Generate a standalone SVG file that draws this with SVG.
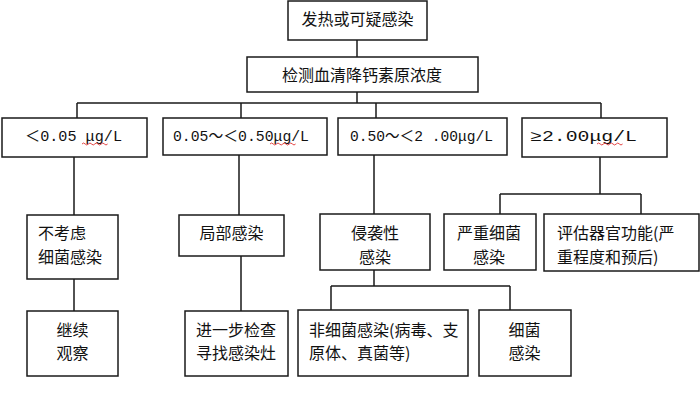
<svg xmlns="http://www.w3.org/2000/svg" width="700" height="412" viewBox="0 0 700 412">
<style>
.box{fill:#fff;stroke:#1a1a1a;stroke-width:1.5}
.ln{fill:none;stroke:#1a1a1a;stroke-width:1.5}
.t{font-family:"Noto Sans CJK SC","Liberation Sans",sans-serif;font-size:16px;fill:#111}
.c{text-anchor:middle}
.m{font-family:"Liberation Mono","Noto Sans CJK SC",monospace;font-size:15px;fill:#111}
.sq{fill:none;stroke:#e03030;stroke-width:0.9}
</style>
<rect width="700" height="412" fill="#fff"/>
<g id="connectors">
<path class="ln" d="M357 40V57"/>
<path class="ln" d="M357 92V103M77 103H601M77 103V118M241 103V118M376 103V118M601 103V118"/>
<path class="ln" d="M74 157V215M74 279V311"/>
<path class="ln" d="M239 155V215M241 256V311"/>
<path class="ln" d="M374 155V214M374 270V286M331 286H510M331 286V310M510 286V310"/>
<path class="ln" d="M600 157V194M500 194H641M500 194V214M641 194V214"/>
</g>
<g id="n1"><rect class="box" x="288" y="1" width="139" height="39"/><text class="t c" x="357.5" y="25">发热或可疑感染</text></g>
<g id="n2"><rect class="box" x="247" y="57" width="231" height="35"/><text class="t c" x="362" y="81">检测血清降钙素原浓度</text></g>
<g id="n3"><rect class="box" x="2" y="118" width="145" height="39"/><text class="m" x="25" y="141" textLength="97" lengthAdjust="spacingAndGlyphs">＜0.05 μg/L</text><path class="sq" d="M82 144q1.6-2 3.2 0t3.2 0t3.2 0t3.2 0t3.2 0t3.2 0t3.2 0t3.2 0"/></g>
<g id="n4"><rect class="box" x="163" y="118" width="164" height="37"/><text class="m" x="173" y="141" textLength="136" lengthAdjust="spacingAndGlyphs">0.05～＜0.50μg/L</text><path class="sq" d="M270 144q1.6-2 3.2 0t3.2 0t3.2 0t3.2 0t3.2 0t3.2 0t3.2 0t3.2 0"/></g>
<g id="n5"><rect class="box" x="338" y="118" width="169" height="37"/><text class="m" x="350" y="141" textLength="143" lengthAdjust="spacingAndGlyphs">0.50～＜2 .00μg/L</text></g>
<g id="n6"><rect class="box" x="522" y="118" width="145" height="39"/><text class="m" x="530" y="141" textLength="107" lengthAdjust="spacingAndGlyphs">≥2.00μg/L</text><path class="sq" d="M597 144q1.6-2 3.2 0t3.2 0t3.2 0t3.2 0t3.2 0t3.2 0t3.2 0t3.2 0"/></g>
<g id="n7"><rect class="box" x="27" y="215" width="91" height="64"/><text class="t" x="38" y="239">不考虑</text><text class="t" x="38" y="263">细菌感染</text></g>
<g id="n8"><rect class="box" x="179" y="215" width="105" height="41"/><text class="t c" x="231.5" y="239">局部感染</text></g>
<g id="n9"><rect class="box" x="320" y="214" width="110" height="56"/><text class="t c" x="375" y="239">侵袭性</text><text class="t c" x="375" y="263">感染</text></g>
<g id="n10"><rect class="box" x="444" y="214" width="92" height="56"/><text class="t c" x="489" y="239">严重细菌</text><text class="t c" x="489" y="263">感染</text></g>
<g id="n11"><rect class="box" x="544" y="214" width="155" height="57"/><text class="t" x="557" y="239">评估器官功能(严</text><text class="t" x="557" y="263">重程度和预后)</text></g>
<g id="n12"><rect class="box" x="27" y="311" width="91" height="65"/><text class="t c" x="72.5" y="336">继续</text><text class="t c" x="72.5" y="359">观察</text></g>
<g id="n13"><rect class="box" x="185" y="311" width="103" height="65"/><text class="t c" x="236" y="336">进一步检查</text><text class="t c" x="236" y="359">寻找感染灶</text></g>
<g id="n14"><rect class="box" x="298" y="310" width="170" height="66"/><text class="t" x="309" y="336">非细菌感染(病毒、支</text><text class="t" x="309" y="359">原体、真菌等)</text></g>
<g id="n15"><rect class="box" x="479" y="310" width="92" height="66"/><text class="t c" x="524.5" y="336">细菌</text><text class="t c" x="524.5" y="359">感染</text></g>
</svg>
